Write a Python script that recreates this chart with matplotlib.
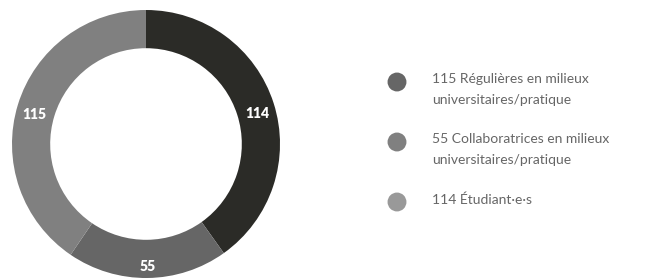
import matplotlib.pyplot as plt
import numpy as np

# data (clockwise from the top)
ring_values = [114, 55, 115]
ring_colors = ['#2b2b27', '#666666', '#808080']

legend_labels = ['115 Régulières en milieux\nuniversitaires/pratique',
                 '55 Collaboratrices en milieux\nuniversitaires/pratique',
                 '114 Étudiant·e·s']
legend_colors = ['#666666', '#808080', '#999999']

W, H = 649, 278
fig = plt.figure(figsize=(W / 100, H / 100), dpi=100)

# donut axes: centre (146, 144) px, outer radius 134 px
cx, cy, r = 146, 144, 134
ax = fig.add_axes([(cx - r) / W, (H - cy - r) / H, 2 * r / W, 2 * r / H])
wedges, _ = ax.pie(ring_values, colors=ring_colors, startangle=90, counterclock=False,
                   radius=1, wedgeprops=dict(width=0.285, edgecolor='none'))
ax.set_xlim(-1, 1)
ax.set_ylim(-1, 1)
ax.set_aspect('equal')
ax.axis('off')

# value labels in the middle of each ring segment (sit a little low, like the original)
for w, v in zip(wedges, ring_values):
    ang = np.deg2rad((w.theta1 + w.theta2) / 2)
    ax.text(0.875 * np.cos(ang), 0.875 * np.sin(ang) - 0.041, str(v), color='white',
            fontsize=10, fontweight='heavy', family='Lato', ha='center', va='center')

# legend, drawn by hand
lax = fig.add_axes([0, 0, 1, 1])
lax.set_xlim(0, W)
lax.set_ylim(H, 0)
lax.axis('off')
dot_y = [82, 142, 202]
for y, lab, col in zip(dot_y, legend_labels, legend_colors):
    lax.scatter([397], [y], s=185, color=col, edgecolors='none')
    lax.text(432, y - 9, lab, color='#666666', fontsize=10, family='Lato',
             ha='left', va='top', linespacing=1.9)

fig.savefig('out.png', dpi=100)
